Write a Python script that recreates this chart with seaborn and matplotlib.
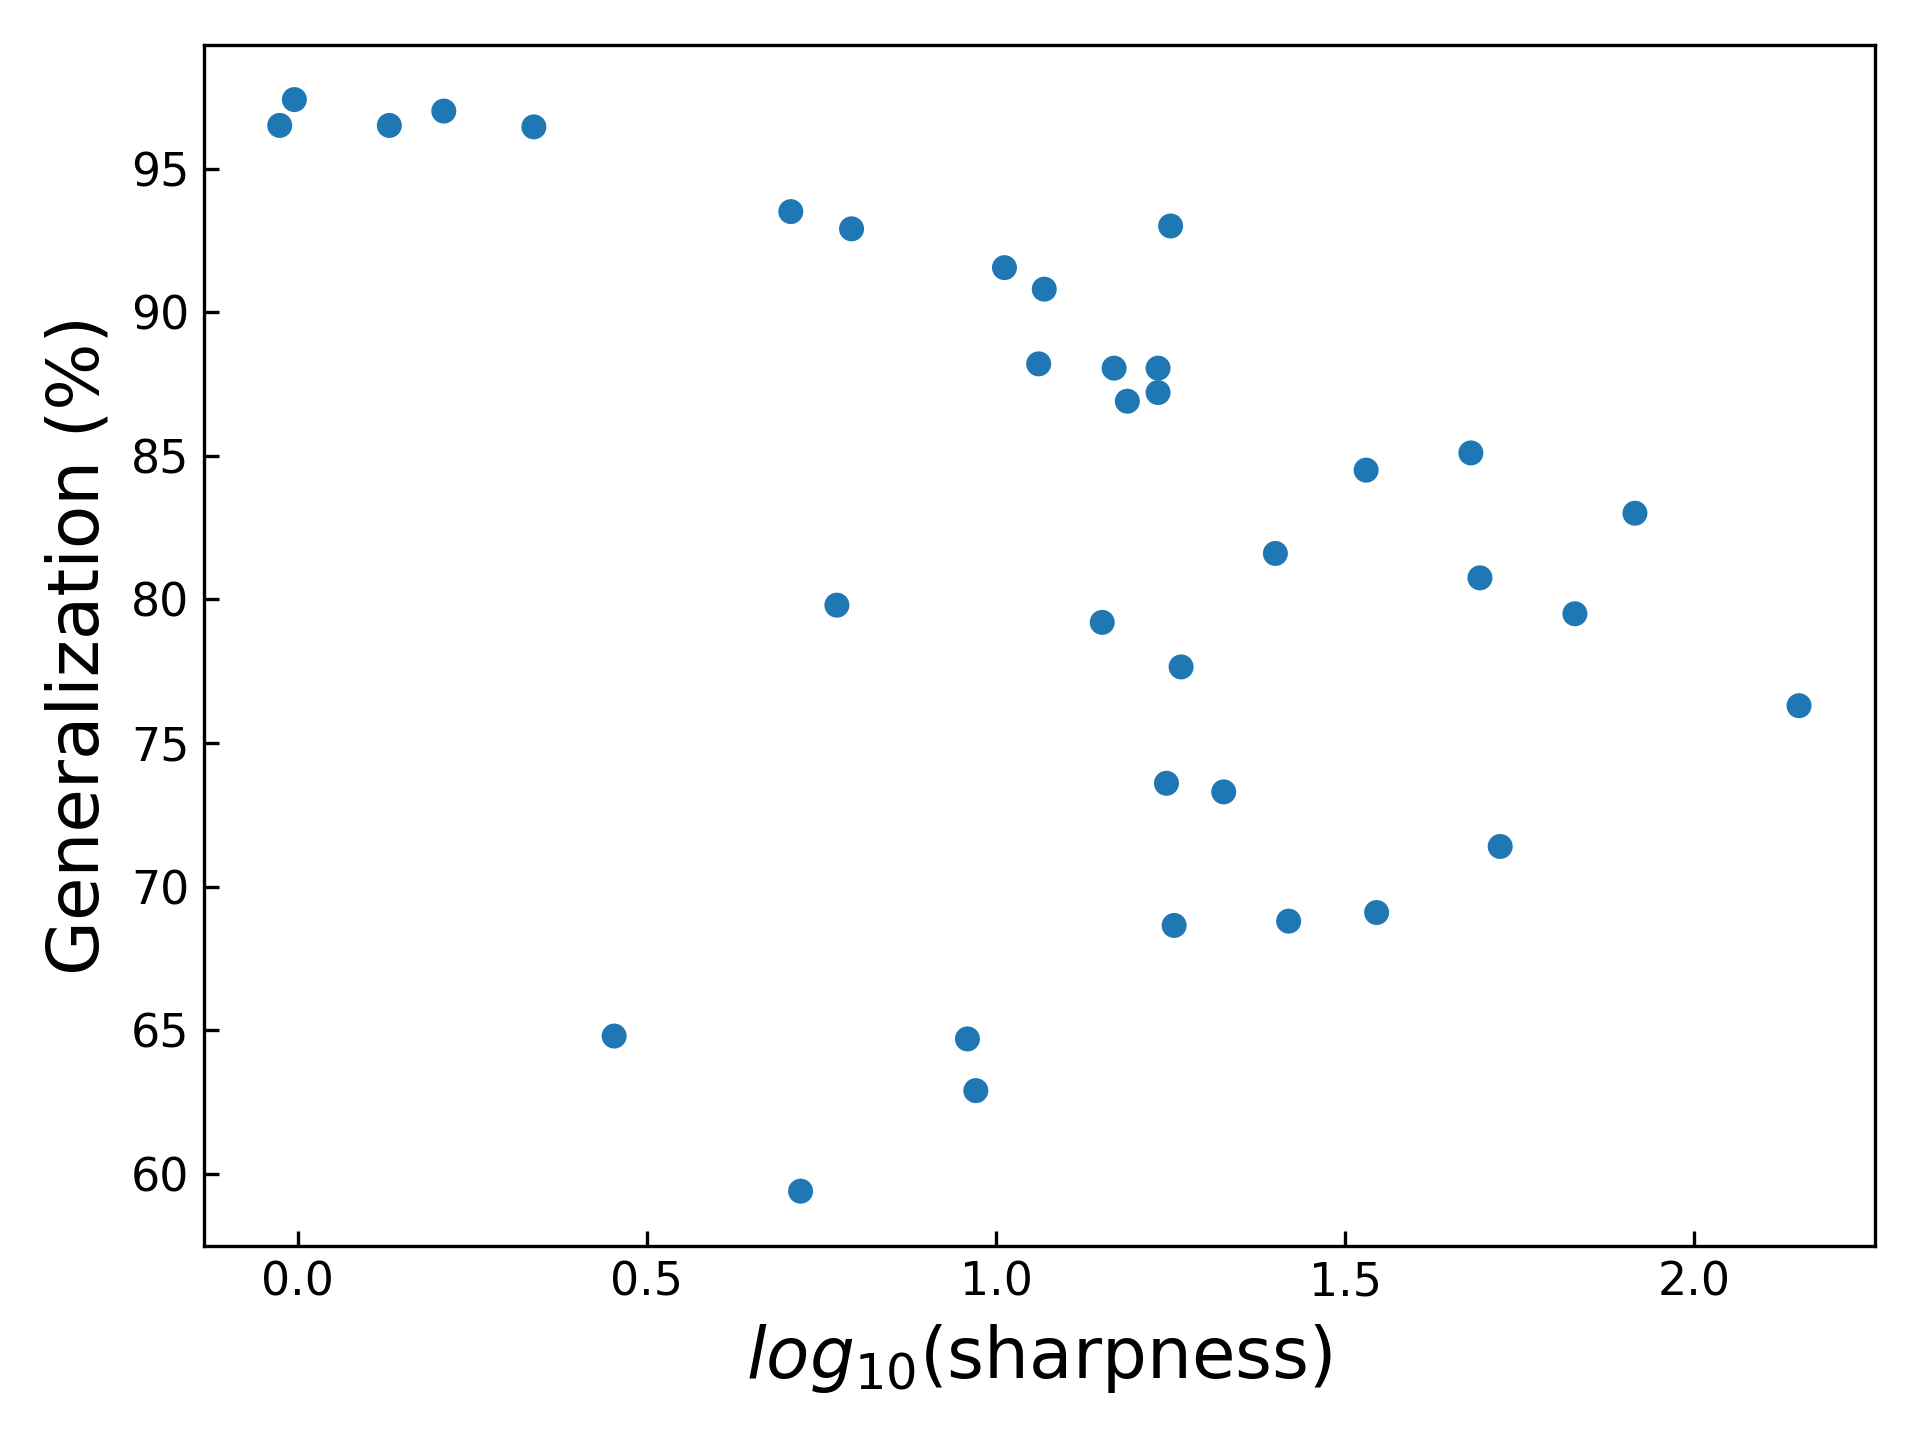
import matplotlib
matplotlib.use("Agg")
import matplotlib.pyplot as plt
import seaborn as sns
import pandas as pd

log_sharpness = [-0.026, -0.005, 0.131, 0.209, 0.338, 0.706, 0.793, 1.250, 1.012, 1.069,
                 1.061, 1.169, 1.232, 1.188, 1.232, 1.530, 1.680, 1.915, 1.400, 1.693,
                 0.772, 1.152, 1.829, 1.265, 2.150, 1.244, 1.326, 1.722, 1.255, 1.419,
                 1.545, 0.453, 0.959, 0.971, 0.720]
generalization = [96.5, 97.4, 96.5, 97.0, 96.45, 93.5, 92.9, 93.0, 91.55, 90.8,
                  88.2, 88.05, 88.05, 86.9, 87.2, 84.5, 85.1, 83.0, 81.6, 80.75,
                  79.8, 79.2, 79.5, 77.65, 76.3, 73.6, 73.3, 71.4, 68.65, 68.8,
                  69.1, 64.8, 64.7, 62.9, 59.4]

df = pd.DataFrame({'x': log_sharpness, 'y': generalization})

fig, ax = plt.subplots(figsize=(6.4, 4.8), dpi=300)
sns.scatterplot(data=df, x='x', y='y', ax=ax, s=36, color='#1f77b4', edgecolor='none')
ax.tick_params(direction='in', labelsize=11)
ax.set_xlabel(r'$log_{10}$(sharpness)', fontsize=17)
ax.set_ylabel('Generalization (%)', fontsize=17)
plt.tight_layout()
plt.savefig('out.png')
